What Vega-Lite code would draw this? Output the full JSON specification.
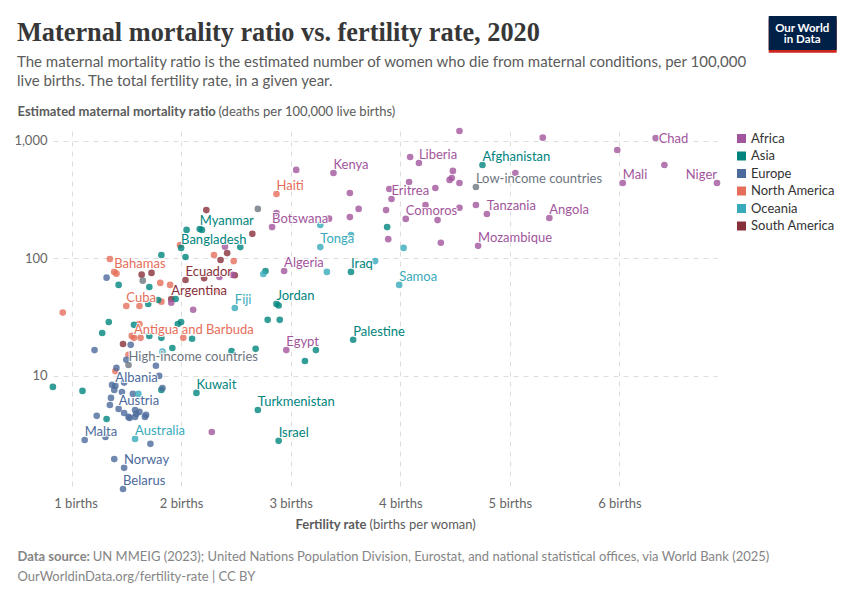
{"$schema":"https://vega.github.io/schema/vega-lite/v6.json","width":664,"height":358,"autosize":{"type":"none"},"padding":{"left":53,"top":131,"right":133,"bottom":111},"background":"white","title":{"text":"Maternal mortality ratio vs. fertility rate, 2020","subtitle":["The maternal mortality ratio is the estimated number of women who die from maternal conditions, per 100,000","live births. The total fertility rate, in a given year."],"anchor":"start","frame":"group","dx":-36,"offset":-72.5,"font":"Liberation Serif","fontSize":26.3,"fontWeight":"bold","color":"#373737","subtitleFont":"Lato","subtitleFontSize":15,"subtitleColor":"#5b5b5b","subtitleLineHeight":18.5,"subtitlePadding":8.3},"config":{"view":{"stroke":null},"font":"Lato"},"datasets":{"pts":[
{"group":"North America","fert":1.35,"mmr":99},
{"group":"North America","fert":1.39,"mmr":76.8,"label":"Bahamas"},
{"group":"North America","fert":1.41,"mmr":74.2},
{"group":"North America","fert":1.81,"mmr":61.9},
{"group":"North America","fert":1.90,"mmr":59.5},
{"group":"North America","fert":1.50,"mmr":39.4,"label":"Cuba"},
{"group":"North America","fert":1.62,"mmr":39.4},
{"group":"North America","fert":1.82,"mmr":42.9},
{"group":"North America","fert":0.92,"mmr":34.6},
{"group":"North America","fert":1.99,"mmr":130},
{"group":"North America","fert":2.30,"mmr":107},
{"group":"North America","fert":2.48,"mmr":95},
{"group":"North America","fert":2.87,"mmr":354,"label":"Haiti"},
{"group":"North America","fert":1.62,"mmr":27.7},
{"group":"North America","fert":1.55,"mmr":21.9},
{"group":"North America","fert":1.57,"mmr":21.1,"label":"Antigua and Barbuda"},
{"group":"North America","fert":1.63,"mmr":21.1},
{"group":"North America","fert":2.02,"mmr":21.1},
{"group":"North America","fert":1.52,"mmr":15.1},
{"group":"North America","fert":1.40,"mmr":11},
{"group":"North America","fert":2.35,"mmr":52},
{"group":"South America","fert":1.64,"mmr":72.8},
{"group":"South America","fert":1.73,"mmr":75.3},
{"group":"South America","fert":2.04,"mmr":65.6,"label":"Ecuador"},
{"group":"South America","fert":2.21,"mmr":67.8},
{"group":"South America","fert":2.49,"mmr":72},
{"group":"South America","fert":1.91,"mmr":45.2,"label":"Argentina"},
{"group":"South America","fert":2.23,"mmr":258},
{"group":"South America","fert":2.36,"mmr":97},
{"group":"South America","fert":2.42,"mmr":111},
{"group":"South America","fert":2.65,"mmr":162},
{"group":"South America","fert":1.47,"mmr":18.7},
{"group":"Asia","fert":1.43,"mmr":59.5},
{"group":"Asia","fert":1.71,"mmr":57.2},
{"group":"Asia","fert":1.82,"mmr":107},
{"group":"Asia","fert":1.95,"mmr":45.2},
{"group":"Asia","fert":1.79,"mmr":44.3},
{"group":"Asia","fert":1.70,"mmr":41},
{"group":"Asia","fert":2.05,"mmr":175},
{"group":"Asia","fert":2.17,"mmr":178,"label":"Myanmar"},
{"group":"Asia","fert":2.19,"mmr":175},
{"group":"Asia","fert":2.00,"mmr":123,"label":"Bangladesh"},
{"group":"Asia","fert":2.04,"mmr":103},
{"group":"Asia","fert":2.54,"mmr":125},
{"group":"Asia","fert":2.77,"mmr":78.2},
{"group":"Asia","fert":2.87,"mmr":41,"label":"Jordan"},
{"group":"Asia","fert":2.89,"mmr":39.8},
{"group":"Asia","fert":1.34,"mmr":28.8},
{"group":"Asia","fert":1.28,"mmr":23.2},
{"group":"Asia","fert":1.57,"mmr":27.2},
{"group":"Asia","fert":1.97,"mmr":27.7},
{"group":"Asia","fert":2.00,"mmr":28.8},
{"group":"Asia","fert":2.79,"mmr":30},
{"group":"Asia","fert":2.90,"mmr":30},
{"group":"Asia","fert":1.71,"mmr":21.9},
{"group":"Asia","fert":1.82,"mmr":21.1},
{"group":"Asia","fert":2.10,"mmr":20.7},
{"group":"Asia","fert":1.92,"mmr":17.3},
{"group":"Asia","fert":2.46,"mmr":16.3},
{"group":"Asia","fert":2.68,"mmr":17},
{"group":"Asia","fert":0.83,"mmr":8.06},
{"group":"Asia","fert":1.10,"mmr":7.45},
{"group":"Asia","fert":1.82,"mmr":7.6},
{"group":"Asia","fert":2.14,"mmr":7.17,"label":"Kuwait"},
{"group":"Asia","fert":1.32,"mmr":4.3},
{"group":"Asia","fert":2.70,"mmr":5.13,"label":"Turkmenistan"},
{"group":"Asia","fert":2.89,"mmr":2.8,"label":"Israel"},
{"group":"Asia","fert":4.75,"mmr":624,"label":"Afghanistan"},
{"group":"Asia","fert":3.88,"mmr":185},
{"group":"Asia","fert":3.55,"mmr":76.8,"label":"Iraq"},
{"group":"Asia","fert":3.57,"mmr":20.3,"label":"Palestine"},
{"group":"Asia","fert":3.13,"mmr":13.4},
{"group":"Asia","fert":3.23,"mmr":16.6},
{"group":"Europe","fert":1.32,"mmr":68.6},
{"group":"Europe","fert":1.54,"mmr":18.4},
{"group":"Europe","fert":1.21,"mmr":16.6},
{"group":"Europe","fert":1.50,"mmr":13.7},
{"group":"Europe","fert":1.41,"mmr":11.7},
{"group":"Europe","fert":1.77,"mmr":12.2},
{"group":"Europe","fert":1.80,"mmr":10},
{"group":"Europe","fert":1.48,"mmr":8.77},
{"group":"Europe","fert":1.40,"mmr":8.22,"label":"Albania"},
{"group":"Europe","fert":1.37,"mmr":8.38},
{"group":"Europe","fert":1.39,"mmr":7.6},
{"group":"Europe","fert":1.46,"mmr":7.3},
{"group":"Europe","fert":1.56,"mmr":7.03},
{"group":"Europe","fert":1.83,"mmr":7.9},
{"group":"Europe","fert":1.36,"mmr":6.5},
{"group":"Europe","fert":1.35,"mmr":5.66},
{"group":"Europe","fert":1.43,"mmr":5.24,"label":"Austria"},
{"group":"Europe","fert":1.48,"mmr":4.84},
{"group":"Europe","fert":1.58,"mmr":5.13},
{"group":"Europe","fert":1.62,"mmr":4.94},
{"group":"Europe","fert":1.58,"mmr":4.48},
{"group":"Europe","fert":1.53,"mmr":4.39},
{"group":"Europe","fert":1.52,"mmr":4.48},
{"group":"Europe","fert":1.59,"mmr":4.75},
{"group":"Europe","fert":1.68,"mmr":4.66},
{"group":"Europe","fert":1.67,"mmr":4.48},
{"group":"Europe","fert":1.23,"mmr":4.57},
{"group":"Europe","fert":1.12,"mmr":2.85,"label":"Malta"},
{"group":"Europe","fert":1.31,"mmr":3.02},
{"group":"Europe","fert":1.72,"mmr":2.64},
{"group":"Europe","fert":1.39,"mmr":1.96},
{"group":"Europe","fert":1.48,"mmr":1.65,"label":"Norway"},
{"group":"Europe","fert":1.47,"mmr":1.09,"label":"Belarus"},
{"group":"Oceania","fert":2.49,"mmr":37.9,"label":"Fiji"},
{"group":"Oceania","fert":2.75,"mmr":73.8},
{"group":"Oceania","fert":1.61,"mmr":7.03},
{"group":"Oceania","fert":1.58,"mmr":2.91,"label":"Australia"},
{"group":"Oceania","fert":1.83,"mmr":16.1},
{"group":"Oceania","fert":3.27,"mmr":193},
{"group":"Oceania","fert":3.55,"mmr":158},
{"group":"Oceania","fert":3.27,"mmr":125,"label":"Tonga"},
{"group":"Oceania","fert":4.03,"mmr":123},
{"group":"Oceania","fert":3.77,"mmr":95},
{"group":"Oceania","fert":3.33,"mmr":76.8},
{"group":"Oceania","fert":3.99,"mmr":59.5,"label":"Samoa"},
{"group":"Africa","fert":2.40,"mmr":126},
{"group":"Africa","fert":2.47,"mmr":72.4},
{"group":"Africa","fert":2.35,"mmr":69.6},
{"group":"Africa","fert":1.91,"mmr":42},
{"group":"Africa","fert":2.11,"mmr":36.6},
{"group":"Africa","fert":2.83,"mmr":185,"label":"Botswana"},
{"group":"Africa","fert":2.87,"mmr":244},
{"group":"Africa","fert":4.54,"mmr":1216},
{"group":"Africa","fert":5.30,"mmr":1067},
{"group":"Africa","fert":3.05,"mmr":567},
{"group":"Africa","fert":3.39,"mmr":534,"label":"Kenya"},
{"group":"Africa","fert":4.09,"mmr":731},
{"group":"Africa","fert":4.17,"mmr":650,"label":"Liberia"},
{"group":"Africa","fert":4.48,"mmr":556},
{"group":"Africa","fert":4.47,"mmr":484},
{"group":"Africa","fert":4.45,"mmr":466},
{"group":"Africa","fert":4.54,"mmr":439},
{"group":"Africa","fert":5.05,"mmr":534},
{"group":"Africa","fert":4.08,"mmr":447},
{"group":"Africa","fert":4.32,"mmr":398},
{"group":"Africa","fert":3.54,"mmr":361},
{"group":"Africa","fert":3.92,"mmr":321,"label":"Eritrea"},
{"group":"Africa","fert":3.90,"mmr":390},
{"group":"Africa","fert":3.87,"mmr":258},
{"group":"Africa","fert":4.23,"mmr":285},
{"group":"Africa","fert":4.54,"mmr":270},
{"group":"Africa","fert":4.69,"mmr":285},
{"group":"Africa","fert":4.79,"mmr":239,"label":"Tanzania"},
{"group":"Africa","fert":3.62,"mmr":264},
{"group":"Africa","fert":3.54,"mmr":225},
{"group":"Africa","fert":3.35,"mmr":218},
{"group":"Africa","fert":4.05,"mmr":217,"label":"Comoros"},
{"group":"Africa","fert":4.34,"mmr":212},
{"group":"Africa","fert":3.89,"mmr":146},
{"group":"Africa","fert":4.37,"mmr":136},
{"group":"Africa","fert":4.71,"mmr":128,"label":"Mozambique"},
{"group":"Africa","fert":5.36,"mmr":221,"label":"Angola"},
{"group":"Africa","fert":2.94,"mmr":78.2,"label":"Algeria"},
{"group":"Africa","fert":5.98,"mmr":838},
{"group":"Africa","fert":6.41,"mmr":625},
{"group":"Africa","fert":6.03,"mmr":439,"label":"Mali"},
{"group":"Africa","fert":6.89,"mmr":439,"label":"Niger","place":"left"},
{"group":"Africa","fert":6.33,"mmr":1061,"label":"Chad","place":"right"},
{"group":"Africa","fert":2.96,"mmr":16.6,"label":"Egypt"},
{"group":"Africa","fert":2.28,"mmr":3.33},
{"group":"Income","fert":1.65,"mmr":64.7},
{"group":"Income","fert":2.70,"mmr":264},
{"group":"Income","fert":1.52,"mmr":12.4,"label":"High-income countries"},
{"group":"Income","fert":4.69,"mmr":406,"label":"Low-income countries"}
]},
"data":{"name":"pts"},
"layer":[
{"transform":[{"filter":"datum.group!=='Income'"}],"mark":{"type":"circle","size":44,"opacity":0.8},
"encoding":{
"x":{"field":"fert","type":"quantitative","scale":{"domain":[0.831,6.89],"nice":false,"zero":false},"axis":{"values":[1,2,3,4,5,6],"orient":"bottom","labelExpr":"datum.value+' births'","labelFontSize":13,"labelColor":"#666666","labelFont":"Lato","labelPadding":8,"labelOffset":{"expr":"datum.value===1?4:0"},"labelFlush":false,"ticks":false,"domain":false,"grid":true,"gridColor":"#dddddd","gridDash":[5,5],"gridWidth":1,"title":"Fertility rate","titleX":242,"titleY":39,"titleAlign":"left","titleBaseline":"alphabetic","titleFont":"Lato","titleFontSize":13,"titleFontWeight":"bold","titleColor":"#5b5b5b"}},
"y":{"field":"mmr","type":"quantitative","scale":{"type":"log","domain":[1.09,1216],"nice":false},"axis":{"values":[10,100,1000],"orient":"left","format":",","labelFontSize":13,"labelColor":"#666666","labelFont":"Lato","labelPadding":6,"ticks":false,"domain":false,"grid":true,"gridColor":"#dddddd","gridDash":[5,5],"gridWidth":1,"title":"Estimated maternal mortality ratio","titleX":-36,"titleY":-16,"titleAngle":0,"titleAlign":"left","titleBaseline":"alphabetic","titleFont":"Lato","titleFontSize":13,"titleFontWeight":"bold","titleColor":"#5b5b5b"}},
"color":{"field":"group","type":"nominal","scale":{"domain":["Africa","Asia","Europe","North America","Oceania","South America","Income"],"range":["#A2559C","#00847E","#4C6A9C","#E56E5A","#38AABA","#883039","#6D7580"]},"legend":{"values":["Africa","Asia","Europe","North America","Oceania","South America"],"orient":"none","legendX":682,"legendY":1,"title":null,"symbolType":"square","symbolSize":81,"symbolStrokeWidth":0,"labelFont":"Lato","labelFontSize":13,"labelColor":"#333333","labelOffset":3,"rowPadding":3.5,"padding":0,"encoding":{"symbols":{"opacity":{"value":1}}}}}}},
{"transform":[{"filter":"datum.group==='Income'"}],"mark":{"type":"circle","size":44,"opacity":0.8},
"encoding":{
"x":{"field":"fert","type":"quantitative","axis":{"orient":"bottom","labels":false,"ticks":false,"domain":false,"grid":false,"title":"(births per woman)","titleX":316,"titleY":39,"titleAlign":"left","titleBaseline":"alphabetic","titleFont":"Lato","titleFontSize":13,"titleFontWeight":"normal","titleColor":"#5b5b5b"}},
"y":{"field":"mmr","type":"quantitative","axis":{"orient":"left","labels":false,"ticks":false,"domain":false,"grid":false,"title":"(deaths per 100,000 live births)","titleX":165,"titleY":-16,"titleAngle":0,"titleAlign":"left","titleBaseline":"alphabetic","titleFont":"Lato","titleFontSize":13,"titleFontWeight":"normal","titleColor":"#5b5b5b"}},
"color":{"field":"group","type":"nominal"},
"strokeDash":{"field":"group","type":"nominal","scale":{"domain":["Income","y"],"range":[[1,0],[1,0]]},"legend":{"values":["Income","y"],"orient":"none","legendX":715.7,"legendY":-112.3,"title":null,"columns":2,"columnPadding":-1.8,"rowPadding":0,"padding":0,"symbolType":"square","symbolSize":1109,"symbolStrokeWidth":0,"symbolFillColor":"transparent","symbolStrokeColor":"transparent","symbolOffset":0,"labelOffset":0,"labelExpr":"''","fillColor":"#CE261E","zindex":0}},
"strokeWidth":{"field":"group","type":"nominal","scale":{"domain":["Income","x"],"range":[0,0]},"legend":{"values":["Income","x"],"orient":"none","legendX":715.7,"legendY":-115,"title":null,"columns":2,"columnPadding":-1.8,"rowPadding":0,"padding":0,"symbolType":"square","symbolSize":1109,"symbolStrokeWidth":0,"symbolFillColor":"transparent","symbolStrokeColor":"transparent","symbolOffset":0,"labelOffset":0,"labelExpr":"''","fillColor":"#002147","zindex":1}}}},
{"transform":[{"filter":"isValid(datum.label)"}],"mark":{"type":"text","font":"Lato","fontSize":13,"fill":"white","stroke":"white","strokeWidth":2,"strokeOpacity":0.9,"align":{"expr":"datum.place==='left'?'right':'left'"},"baseline":"alphabetic","dx":{"expr":"datum.place==='right'?3:0"},"dy":{"expr":"datum.place==='right'?5:-3.7"}},
"encoding":{
"x":{"field":"fert","type":"quantitative","axis":{"orient":"bottom","labels":false,"ticks":false,"domain":false,"grid":false,"title":"Data source:","titleX":-36,"titleY":71.5,"titleAlign":"left","titleBaseline":"alphabetic","titleFont":"Lato","titleFontSize":13,"titleFontWeight":"bold","titleColor":"#858585"}},
"y":{"field":"mmr","type":"quantitative","axis":{"orient":"left","labels":false,"ticks":false,"domain":false,"grid":false,"zindex":2,"title":"Our World","titleX":748.7,"titleY":-100,"titleAngle":0,"titleAlign":"center","titleBaseline":"alphabetic","titleFont":"Lato","titleFontSize":11.5,"titleFontWeight":"bold","titleColor":"white"}},
"text":{"field":"label"}}},
{"transform":[{"filter":"isValid(datum.label)&&!isValid(datum.place)"}],"mark":{"type":"text","font":"Lato","fontSize":13,"align":"left","baseline":"alphabetic","dy":-3.7},
"encoding":{
"x":{"field":"fert","type":"quantitative","axis":{"orient":"bottom","labels":false,"ticks":false,"domain":false,"grid":false,"title":"UN MMEIG (2023); United Nations Population Division, Eurostat, and national statistical offices, via World Bank (2025)","titleX":39.3,"titleY":71.5,"titleAlign":"left","titleBaseline":"alphabetic","titleFont":"Lato","titleFontSize":13,"titleFontWeight":"normal","titleColor":"#858585","titleLimit":800}},
"y":{"field":"mmr","type":"quantitative","axis":{"orient":"left","labels":false,"ticks":false,"domain":false,"grid":false,"zindex":2,"title":"in Data","titleX":748.7,"titleY":-88.3,"titleAngle":0,"titleAlign":"center","titleBaseline":"alphabetic","titleFont":"Lato","titleFontSize":11.5,"titleFontWeight":"bold","titleColor":"white"}},
"text":{"field":"label"},
"color":{"field":"group","type":"nominal","legend":null}}},
{"transform":[{"filter":"isValid(datum.place)"}],"mark":{"type":"text","font":"Lato","fontSize":13,"align":{"expr":"datum.place==='left'?'right':'left'"},"baseline":"alphabetic","dx":{"expr":"datum.place==='right'?3:0"},"dy":{"expr":"datum.place==='right'?5:-3.7"}},
"encoding":{
"x":{"field":"fert","type":"quantitative","axis":{"orient":"bottom","labels":false,"ticks":false,"domain":false,"grid":false,"title":"OurWorldinData.org/fertility-rate | CC BY","titleX":-36,"titleY":91.7,"titleAlign":"left","titleBaseline":"alphabetic","titleFont":"Lato","titleFontSize":13,"titleFontWeight":"normal","titleColor":"#858585"}},
"y":{"field":"mmr","type":"quantitative","axis":null},
"text":{"field":"label"},
"color":{"field":"group","type":"nominal","legend":null}}}
],
"resolve":{"axis":{"x":"independent","y":"independent"}}}
